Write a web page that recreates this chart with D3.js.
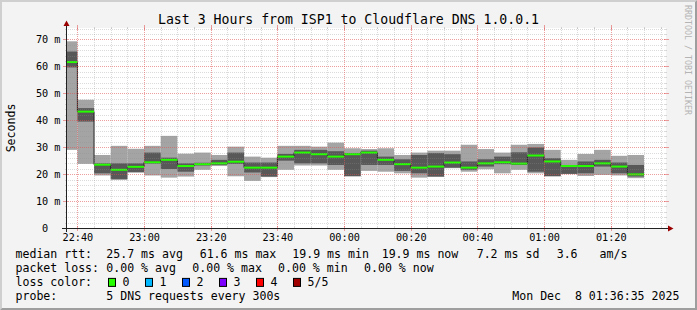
<!DOCTYPE html>
<html>
<head>
<meta charset="utf-8">
<script src="https://cdn.jsdelivr.net/npm/d3@7"></script>
<style>
html,body{margin:0;padding:0;background:#f3f3f3;}
svg{display:block;}
text{font-family:'DejaVu Sans Mono',monospace;white-space:pre;}
</style>
</head>
<body>
<div id="chart"></div>
<script>
// 5 min slots (start time), 5 pings sorted: min, 2nd, median, 4th, max (ms)
var slots=['22:35','22:40','22:45','22:50','22:55','23:00','23:05','23:10','23:15','23:20','23:25','23:30',
	'23:35','23:40','23:45','23:50','23:55','00:00','00:05','00:10','00:15','00:20','00:25','00:30',
	'00:35','00:40','00:45','00:50','00:55','01:00','01:05','01:10','01:15','01:20','01:25'];
var pingMin=[29.0,23.8,19.5,17.8,20.5,19.5,18.7,19.1,21.6,23.0,19.2,17.5,18.9,21.6,23.2,23.2,21.6,19.1,
	21.2,20.9,20.3,18.7,19.0,22.2,20.9,21.8,20.3,21.6,20.3,19.1,20.0,19.3,19.7,19.5,18.5];
var pingLo=[59.6,39.5,20.3,18.2,20.8,23.9,21.9,20.9,23.2,23.4,23.8,20.6,19.1,25.0,24.0,24.0,23.4,19.3,
	23.4,23.4,21.2,20.3,19.1,22.4,21.6,22.8,23.7,23.4,20.9,19.3,20.1,20.3,22.8,20.3,19.1];
var median=[61.6,43.2,23.5,21.6,22.7,24.4,25.3,23.0,23.7,24.0,24.6,22.4,22.4,26.5,28.0,27.4,26.5,27.4,
	28.0,25.3,23.7,22.4,22.8,24.3,22.4,24.0,24.4,23.9,26.9,24.7,23.0,23.0,24.0,22.8,19.9];
var pingHi=[65.5,44.5,24.0,24.0,24.0,28.0,26.1,24.0,24.2,25.3,28.0,24.3,24.3,27.5,29.0,29.0,28.5,27.8,
	28.7,26.5,25.5,27.1,27.8,27.4,24.7,25.5,26.5,28.1,29.9,25.9,23.4,24.7,25.3,24.3,23.4];
var pingMax=[69.3,47.6,27.1,30.5,29.4,30.5,34.2,27.6,28.0,27.1,30.2,26.5,26.1,30.5,30.5,30.2,31.7,29.6,
	29.3,29.6,27.1,28.0,28.7,28.7,30.9,29.3,28.0,30.9,31.2,29.0,25.3,27.5,29.0,26.8,27.1];
var loss=[0,0,0,0,0,0,0,0,0,0,0,0,0,0,0,0,0,0,0,0,0,0,0,0,0,0,0,0,0,0,0,0,0,0,0];

var yTicks=[0,10,20,30,40,50,60,70];
var lossLabels=['0','1','2','3','4','5/5'];
var lossColors=['#26ff00','#00b8ff','#0059ff','#7e00ff','#ff0000','#a10000'];

var title='Last 3 Hours from ISP1 to Cloudflare DNS 1.0.0.1';
var rttStats=['25.7 ms avg','61.6 ms max','19.9 ms min','19.9 ms now','7.2 ms sd','3.6','am/s'];
var lossStats=['0.00 % avg','0.00 % max','0.00 % min','0.00 % now'];
var probeText='5 DNS requests every 300s';
var stamp='Mon Dec  8 01:36:35 2025';

//------------------------------layout------------------------------
var W=697,H=310,
	X0=66,X1=666,Y0=228,Y1=28,
	FONT_AX=10.2,FONT_LG=11.57;
var rttX=[106.3,199.7,292.3,381.7,476.7,556.7,599.5],
	lossX=[106.3,192.3,278,364],
	rowY=[258.3,272.1,285.9,299.7];

function toDate(s){
	var p=s.split(':'),h=+p[0];
	return new Date(2025,11,h<12?8:7,h,+p[1],0);
}
var tStart=new Date(2025,11,7,22,36,35),
	tEnd=new Date(2025,11,8,1,36,35);

var x=d3.scaleTime().domain([tStart,tEnd]).range([X0,X1]);
var y=d3.scaleLinear().domain([0,74.24]).range([Y0,Y1]);

var svg=d3.select('#chart').append('svg').attr('width',W).attr('height',H);

svg.append('rect').attr('width',W).attr('height',H).attr('fill','#f3f3f3');
svg.append('path').attr('d','M0,'+H+'L2,'+(H-2)+'L2,2L'+(W-2)+',2L'+W+',0L0,0Z').attr('fill','#cfcfcf');
svg.append('path').attr('d','M2,'+(H-2)+'L'+(W-2)+','+(H-2)+'L'+(W-2)+',2L'+W+',0L'+W+','+H+'L0,'+H+'Z').attr('fill','#9e9e9e');
//--------------------------------frame-------------------------------------

svg.append('rect').attr('x',X0).attr('y',Y1).attr('width',X1-X0).attr('height',Y0-Y1).attr('fill','#fff');
svg.append('clipPath').attr('id','plot').append('rect')
	.attr('x',X0).attr('y',Y1).attr('width',X1-X0).attr('height',Y0-Y1);

var gData=svg.append('g').attr('clip-path','url(#plot)');
var slotDates=slots.map(toDate);
function slotEnd(d){return d3.timeMinute.offset(d,5);}

// smoke: outer pair light, inner pair dark
gData.selectAll('rect.outer').data(slotDates).enter().append('rect')
	.attr('x',function(d){return x(d);})
	.attr('width',function(d){return x(slotEnd(d))-x(d);})
	.attr('y',function(d,i){return y(pingMax[i]);})
	.attr('height',function(d,i){return y(pingMin[i])-y(pingMax[i]);})
	.attr('fill','#a4a4a4');
gData.selectAll('rect.inner').data(slotDates).enter().append('rect')
	.attr('x',function(d){return x(d);})
	.attr('width',function(d){return x(slotEnd(d))-x(d);})
	.attr('y',function(d,i){return y(pingHi[i]);})
	.attr('height',function(d,i){return y(pingLo[i])-y(pingHi[i]);})
	.attr('fill','#585858');

// median step line, then loss coloured segments
var pts=slotDates.map(function(d,i){return [x(d),y(median[i])];});
pts.push([x(slotEnd(slotDates[slotDates.length-1])),y(median[median.length-1])]);
gData.append('path').attr('d',d3.line().curve(d3.curveStepAfter)(pts))
	.attr('fill','none').attr('stroke','#202020').attr('stroke-width',1);
gData.selectAll('line.med').data(slotDates).enter().append('line')
	.attr('x1',function(d){return x(d);})
	.attr('x2',function(d){return x(slotEnd(d));})
	.attr('y1',function(d,i){return y(median[i]);})
	.attr('y2',function(d,i){return y(median[i]);})
	.attr('stroke',function(d,i){return lossColors[loss[i]];})
	.attr('stroke-width',2);
//-----------------------------smoke + median--------------------------------------

var gGrid=svg.append('g').attr('shape-rendering','crispEdges');
var minorT=d3.timeMinute.every(5).range(tStart,tEnd).filter(function(d){return d.getMinutes()%20!=0;}),
	majorT=d3.timeMinute.every(20).range(tStart,tEnd),
	minorV=d3.range(2,75,2).filter(function(v){return v%10!=0;}),
	majorV=yTicks.filter(function(v){return v>0;});
var GRIDC='rgba(143,143,143,0.32)',MGRIDC='rgba(222,80,80,0.55)';

function vLines(arr,col,tk,tk2){
	arr.forEach(function(d){
		var px=Math.round(x(d))+0.5;
		gGrid.append('line').attr('x1',px).attr('x2',px).attr('y1',Y1).attr('y2',Y0)
			.attr('stroke',col).attr('stroke-dasharray','1,1');
		gGrid.append('line').attr('x1',px).attr('x2',px).attr('y1',Y0-tk).attr('y2',Y0+tk2).attr('stroke',col);
		gGrid.append('line').attr('x1',px).attr('x2',px).attr('y1',Y1-tk2).attr('y2',Y1+tk).attr('stroke',col);
	});
}
function hLines(arr,col,tk,tk2){
	arr.forEach(function(v){
		var py=Math.round(y(v))+0.5;
		gGrid.append('line').attr('x1',X0).attr('x2',X1).attr('y1',py).attr('y2',py)
			.attr('stroke',col).attr('stroke-dasharray','1,1');
		gGrid.append('line').attr('x1',X0-tk2).attr('x2',X0+tk).attr('y1',py).attr('y2',py).attr('stroke',col);
		gGrid.append('line').attr('x1',X1-tk).attr('x2',X1+tk2).attr('y1',py).attr('y2',py).attr('stroke',col);
	});
}
vLines(minorT,GRIDC,1,1);
hLines(minorV,GRIDC,1,1);
vLines(majorT,MGRIDC,2,3);
hLines(majorV,MGRIDC,2,3);
//-----------------------------grid--------------------------------------

var gx=svg.append('g').attr('transform','translate(0,'+Y0+')')
	.call(d3.axisBottom(x).ticks(d3.timeMinute.every(20)).tickFormat(d3.timeFormat('%H:%M')).tickSize(0).tickPadding(6.2));
var gy=svg.append('g').attr('transform','translate('+X0+',0)')
	.call(d3.axisLeft(y).tickValues(yTicks).tickSize(0).tickPadding(5.5)
		.tickFormat(function(v){return v==0?'0\u00a0\u00a0':v+'\u00a0m';}));
[gx,gy].forEach(function(g){
	g.select('.domain').remove();
	g.attr('font-family',"'DejaVu Sans Mono',monospace").attr('font-size',FONT_AX);
	g.selectAll('text').attr('fill','#000');
});

svg.append('line').attr('x1',X0-4).attr('x2',X1+4).attr('y1',Y0+0.5).attr('y2',Y0+0.5)
	.attr('stroke','#212121').attr('shape-rendering','crispEdges');
svg.append('line').attr('x1',X0+0.5).attr('x2',X0+0.5).attr('y1',Y0+4).attr('y2',Y1-4)
	.attr('stroke','#212121').attr('shape-rendering','crispEdges');
svg.append('path').attr('d','M'+(X1+2)+','+(Y0-2.5)+'L'+(X1+7.5)+','+(Y0+0.5)+'L'+(X1+2)+','+(Y0+3.5)+'Z').attr('fill','#9b0000');
svg.append('path').attr('d','M'+(X0-2.5)+','+(Y1-2)+'L'+(X0+0.5)+','+(Y1-7.5)+'L'+(X0+3.5)+','+(Y1-2)+'Z').attr('fill','#9b0000');
//-----------------------------axes--------------------------------------

svg.append('text').attr('x',W/2).attr('y',24).attr('text-anchor','middle')
	.attr('font-size',13.2).attr('fill','#000').text(title);
svg.append('text').attr('transform','translate(14.5,'+((Y0+Y1)/2)+') rotate(-90)')
	.attr('text-anchor','middle').attr('font-size',FONT_LG).attr('fill','#000').text('Seconds');
svg.append('text').attr('transform','translate(685,60) rotate(90)')
	.attr('text-anchor','middle').attr('font-size',8.3).attr('fill','#b4b4b4').text('RRDTOOL / TOBI OETIKER');

var gLeg=svg.append('g').attr('font-size',FONT_LG).attr('fill','#000');
gLeg.append('text').attr('x',15.5).attr('y',rowY[0]).text('median rtt:');
rttStats.forEach(function(s,i){gLeg.append('text').attr('x',rttX[i]).attr('y',rowY[0]).text(s);});
gLeg.append('text').attr('x',15.5).attr('y',rowY[1]).text('packet loss:');
lossStats.forEach(function(s,i){gLeg.append('text').attr('x',lossX[i]).attr('y',rowY[1]).text(s);});
gLeg.append('text').attr('x',15.5).attr('y',rowY[2]).text('loss color:');
lossLabels.forEach(function(s,i){
	var bx=108.5+37*i;
	gLeg.append('rect').attr('x',bx).attr('y',rowY[2]-7.5).attr('width',7).attr('height',8)
		.attr('fill',lossColors[i]).attr('stroke','#000').attr('stroke-width',1);
	gLeg.append('text').attr('x',bx+14).attr('y',rowY[2]).text(s);
});
gLeg.append('text').attr('x',15.5).attr('y',rowY[3]).text('probe:');
gLeg.append('text').attr('x',106.3).attr('y',rowY[3]).text(probeText);
gLeg.append('text').attr('x',512.3).attr('y',rowY[3]).text(stamp);
//-----------------------------legend--------------------------------------
</script>
</body>
</html>
